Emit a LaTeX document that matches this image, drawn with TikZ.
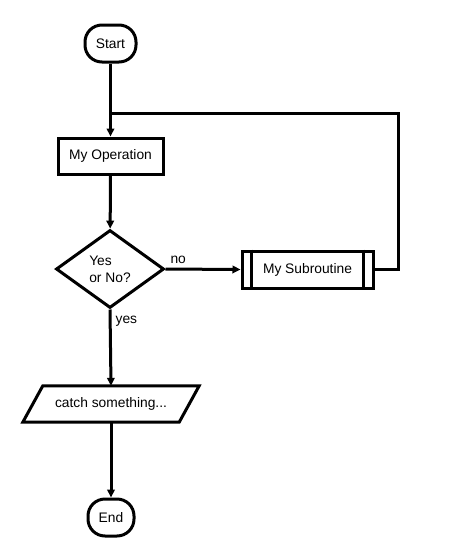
\documentclass[tikz,border=0pt]{standalone}
\usepackage{fontspec}
\setmainfont{Liberation Sans}
\usetikzlibrary{shapes.geometric,arrows.meta,calc}
\begin{document}
\begin{tikzpicture}[x=1pt,y=-1pt,
  every node/.style={font=\fontsize{13.8}{17}\selectfont, inner sep=0pt},
  box/.style={draw, line width=3pt, minimum height=36pt},
  terminal/.style={draw, line width=3pt, rounded corners=17pt, minimum height=37pt},
  decision/.style={draw, diamond, aspect=1.4, line width=3pt, minimum width=108pt, minimum height=78pt, align=left},
  link/.style={line width=3pt, -{Triangle[length=8pt,width=7.5pt]}},
  plain/.style={line width=3pt},
  lbl/.style={font=\fontsize{13.8}{17}\selectfont}]
\useasboundingbox (0,0) rectangle (469,558);
\node[terminal, minimum width=51pt] (start) at (110.5,43.5) {Start};
\node[box, minimum width=105pt] (op) at (110.5,156) {My Operation};
\node[decision] (dec) at (110,269) {Yes\\or No?};
\node[box, minimum width=131pt, minimum height=37pt] (sub) at (307.5,269.5) {My Subroutine};
\draw[plain] ([xshift=11pt]sub.north west) -- ([xshift=11pt]sub.south west);
\draw[plain] ([xshift=-11pt]sub.north east) -- ([xshift=-11pt]sub.south east);
\node[minimum width=176pt, minimum height=36pt] (catch) at (111,404) {catch something...};
\draw[plain, line join=miter] ([xshift=20pt]catch.north west) -- (catch.north east) -- ([xshift=-20pt]catch.south east) -- (catch.south west) -- cycle;
\node[terminal, minimum width=46pt] (end) at (111,517.5) {End};
\coordinate (loopc) at (398,113);
\coordinate (join) at (110.5,113);
\draw[link] (start) -- (op);
\draw[link] (op) -- (dec);
\draw[link] (dec.east) -- node[lbl, pos=0.17, above=4pt] {no} (sub.west);
\draw[plain, line join=miter] (sub.east) -| (loopc) -- (join);
\draw[link] (dec.south) -- node[lbl, pos=0.15, right=4pt] {yes} (catch.north);
\draw[link] (catch.south) -- (end.north);
\end{tikzpicture}
\end{document}
